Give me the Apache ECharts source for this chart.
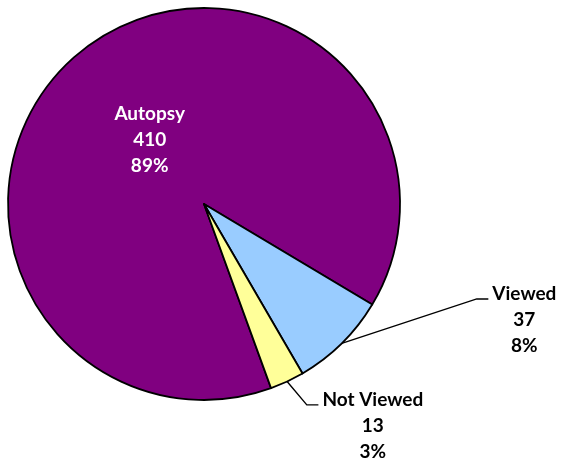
<!DOCTYPE html>
<html><head><meta charset="utf-8">
<script src="https://cdn.jsdelivr.net/npm/echarts@6.0.0/dist/echarts.min.js"></script>
<style>html,body{margin:0;padding:0;background:#fff}#c{width:564px;height:463px}</style>
</head><body><div id="c"></div>
<script>
const categories = ['Autopsy', 'Viewed', 'Not Viewed'];
const values = [410, 37, 13];
const colors = ['#800080', '#99CCFF', '#FFFF99'];
// leader-line elbow offsets relative to the slice anchor (label styling only)
const elbowOffsets = [null, [135, -44.5], [19.7, 23.4]];

const chart = echarts.init(document.getElementById('c'), null, {renderer: 'canvas'});
chart.setOption({
  backgroundColor: '#ffffff',
  animation: false,
  series: [{
    type: 'pie',
    center: [204, 204],
    radius: 196,
    startAngle: -70,
    clockwise: true,
    percentPrecision: 0,
    avoidLabelOverlap: false,
    itemStyle: {borderColor: '#000', borderWidth: 1.8},
    label: {
      show: true,
      formatter: '{b}\n{c}\n{d}%',
      fontFamily: 'Lato',
      fontWeight: 'bold',
      fontSize: 19,
      lineHeight: 26,
      color: '#000',
      align: 'center'
    },
    labelLine: {show: true, length: 20, length2: 12, lineStyle: {color: '#000', width: 1.4}},
    labelLayout: function (p) {
      if (p.dataIndex === 0) return {dx: 10, dy: 14};
      const pts = p.labelLinePoints;
      if (!pts) return {};
      const a = pts[0];
      const off = elbowOffsets[p.dataIndex];
      const e = [a[0] + off[0], a[1] + off[1]];
      const end = [e[0] + 11.6, e[1]];
      return {
        x: end[0] + 4 + p.labelRect.width / 2,
        y: end[1] + 20.7,
        align: 'center',
        verticalAlign: 'middle',
        labelLinePoints: [a, e, end]
      };
    },
    data: categories.map((name, i) => ({
      name: name,
      value: values[i],
      itemStyle: {color: colors[i]},
      label: i === 0 ? {position: 'inside', color: '#fff'} : {position: 'outside'},
      labelLine: i === 0 ? {show: false} : {show: true}
    }))
  }]
});
</script>
</body></html>
